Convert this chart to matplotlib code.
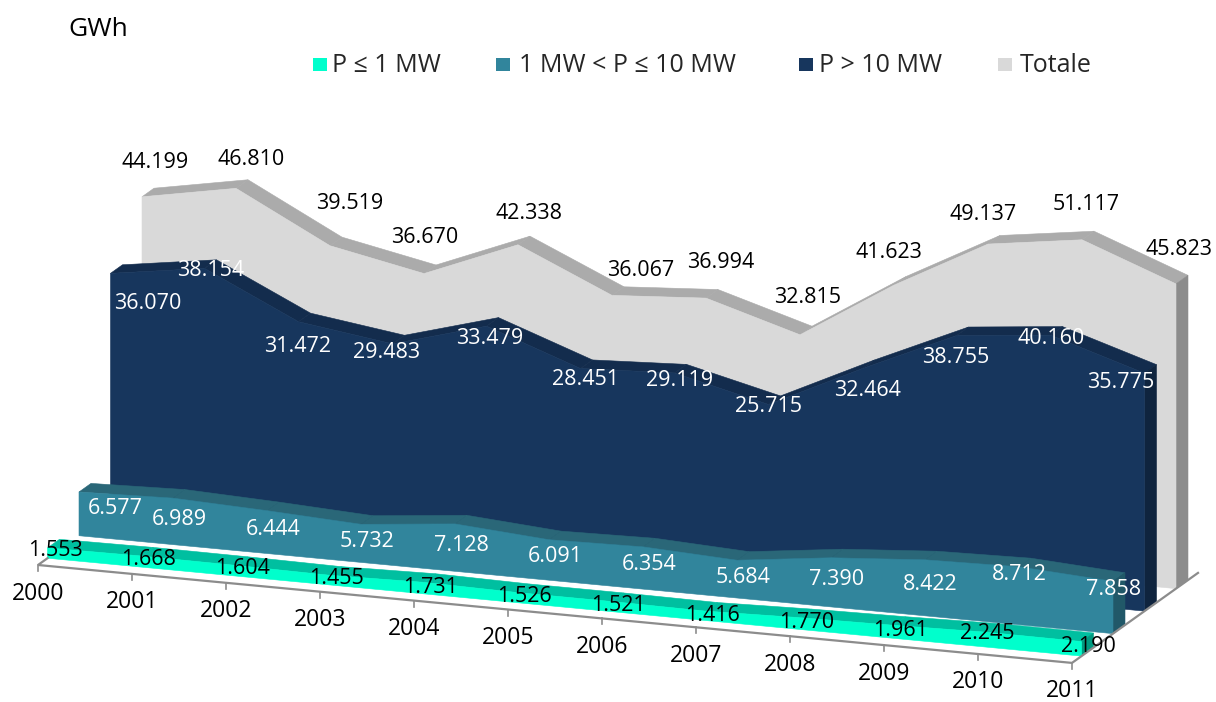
import matplotlib
matplotlib.use("Agg")
import matplotlib.pyplot as plt
from matplotlib.patches import Polygon, Rectangle

plt.rcParams["font.family"] = ["Open Sans", "DejaVu Sans"]

# ============================================================
# Data (GWh)
# ============================================================

YEARS = [2000, 2001, 2002, 2003, 2004, 2005, 2006, 2007, 2008, 2009, 2010, 2011]

LOW = [1553, 1668, 1604, 1455, 1731, 1526, 1521, 1416, 1770, 1961, 2245, 2190]
MID = [6577, 6989, 6444, 5732, 7128, 6091, 6354, 5684, 7390, 8422, 8712, 7858]
HIGH = [36070, 38154, 31472, 29483, 33479, 28451, 29119, 25715, 32464, 38755, 40160, 35775]
TOTAL = [44199, 46810, 39519, 36670, 42338, 36067, 36994, 32815, 41623, 49137, 51117, 45823]

LEGEND_LABELS = ["P ≤ 1 MW", "1 MW < P ≤ 10 MW", "P > 10 MW", "Totale"]

# ============================================================
# Oblique projection, in output pixels
# ============================================================

ORIGIN_X = 38.0
ORIGIN_Y = 565.0
STEP_X = 94.0
STEP_Y = 8.9
DEPTH_SLOPE = 90.0 / 126.0
PX_PER_GWH = 6.65 / 1000.0
THICKNESS = 12.0
FLOOR_DEPTH = 126.0
TEXT_NUDGE = 2

# front face depth, face / top / side colours, label colour and label offsets
LAYERS = [
    dict(values=TOTAL, depth=104.0, face="#D9D9D9", top="#ABABAB", side="#8C8C8C", text="black",
         dx=[13, 15, 20, 1, 11, 29, 15, 8, -5, -5, 4, 3],
         dy=[-36, -31, -44, -38, -33, -27, -38, -39, -35, -32, -37, -36]),
    dict(values=HIGH, depth=72.5, face="#17365D", top="#132C4D", side="#0F243E", text="white",
         dx=[37, 6, -1, -6, 3, 5, 5, 0, 5, -1, 1, -24],
         dy=[28, 0, 23, 7, 10, 9, 6, 0, 20, 20, 1, 7]),
    dict(values=MID, depth=41.0, face="#31859C", top="#2A6778", side="#215868", text="white",
         dx=[36, 6, 6, 6, 6, 6, 6, 6, 6, 5, 0, 1],
         dy=[15, 19, 17, 15, 20, 15, 16, 15, 20, 23, 6, 6]),
    dict(values=LOW, depth=9.5, face="#00FFCC", top="#00BFA0", side="#009A80", text="black",
         dx=[8, 7, 7, 7, 7, 7, 7, 7, 7, 7, 0, 7],
         dy=[1, 1, 1, 1, 3, 2, 2, 2, 3, 3, -1, 3]),
]


def project(i: float, depth: float, value: float = 0.0) -> tuple[float, float]:
    x = ORIGIN_X + STEP_X * i + depth
    y = ORIGIN_Y + STEP_Y * i - depth * DEPTH_SLOPE - value * PX_PER_GWH
    return x, y


def add_face(ax: plt.Axes, points: list, color: str) -> None:
    ax.add_patch(Polygon(points, closed=True, facecolor=color, edgecolor=color, linewidth=0.4))


def draw_layer(ax: plt.Axes, layer: dict) -> None:
    values = layer["values"]
    front = layer["depth"]
    back = front + THICKNESS
    last = len(values) - 1

    # top of the ribbon, one quad per year step
    for i in range(last):
        add_face(
            ax,
            [
                project(i, front, values[i]),
                project(i + 1, front, values[i + 1]),
                project(i + 1, back, values[i + 1]),
                project(i, back, values[i]),
            ],
            layer["top"],
        )

    # right end
    add_face(
        ax,
        [
            project(last, front, values[last]),
            project(last, back, values[last]),
            project(last, back),
            project(last, front),
        ],
        layer["side"],
    )

    # front face
    outline = [project(i, front, v) for i, v in enumerate(values)]
    outline += [project(last, front), project(0, front)]
    add_face(ax, outline, layer["face"])


def draw_floor(ax: plt.Axes) -> None:
    last = len(YEARS) - 1
    xs, ys = zip(project(0, 9.5), project(0, 0), project(last, 0), project(last, FLOOR_DEPTH))
    ax.plot(xs, ys, color="#8C8C8C", linewidth=1.6, solid_joinstyle="miter")

    for i, year in enumerate(YEARS):
        x, y = project(i, 0)
        ax.plot([x, x], [y, y + 6], color="#8C8C8C", linewidth=1.2)
        ax.text(x, y + 28.5, str(year), ha="center", va="center", fontsize=16.5, color="black")


def draw_labels(ax: plt.Axes, layer: dict) -> None:
    for i, value in enumerate(layer["values"]):
        x, y = project(i, layer["depth"], value)
        ax.text(
            x + layer["dx"][i],
            y + layer["dy"][i] + TEXT_NUDGE,
            f"{value:,}".replace(",", "."),
            ha="center",
            va="center",
            fontsize=15.5,
            color=layer["text"],
            zorder=10,
        )


def draw_legend(ax: plt.Axes) -> None:
    colors = ["#00FFCC", "#31859C", "#17365D", "#D9D9D9"]
    swatch_x = [313, 496, 799, 998]
    text_x = [332, 519, 819, 1020]

    for label, color, sx, tx in zip(LEGEND_LABELS, colors, swatch_x, text_x):
        ax.add_patch(Rectangle((sx, 58), 14, 13, facecolor=color, edgecolor="none"))
        ax.text(tx, 64 + TEXT_NUDGE, label, ha="left", va="center", fontsize=18, color="#262626")


def main() -> None:
    fig = plt.figure(figsize=(12.16, 7.02), dpi=100)
    ax = fig.add_axes([0, 0, 1, 1])
    ax.set_xlim(0, 1216)
    ax.set_ylim(702, 0)
    ax.axis("off")

    draw_floor(ax)
    for layer in LAYERS:
        draw_layer(ax, layer)
    for layer in LAYERS:
        draw_labels(ax, layer)

    draw_legend(ax)
    ax.text(98, 27 + TEXT_NUDGE, "GWh", ha="center", va="center", fontsize=19, color="black")

    fig.savefig("out.png", dpi=100)
    plt.close(fig)


if __name__ == "__main__":
    main()
